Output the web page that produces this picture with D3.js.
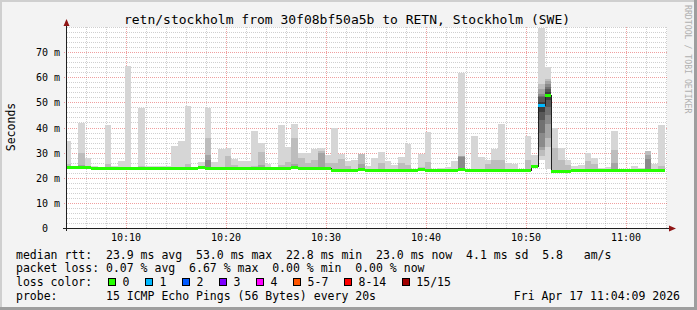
<!DOCTYPE html>
<html><head><meta charset="utf-8">
<script src="https://cdn.jsdelivr.net/npm/d3@7"></script>
<style>
html,body{margin:0;padding:0;background:#f3f3f3;}
svg{display:block;}
text{font-family:"DejaVu Sans Mono",monospace;}
</style></head><body>
<svg id="c" width="697" height="310"></svg>
<script>
// ---------------- data ----------------
const title = "retn/stockholm from 30f08bf50a5b to RETN, Stockholm (SWE)";
const yTitle = "Seconds";
const sideText = "RRDTOOL / TOBI OETIKER";
const yTickValues = [0, 10, 20, 30, 40, 50, 60, 70];
const yTickLabels = ["0", "10 m", "20 m", "30 m", "40 m", "50 m", "60 m", "70 m"];
const xTickLabels = ["10:10", "10:20", "10:30", "10:40", "10:50", "11:00"];
const day = "2026-04-17";
const rangeStart = "10:04:09", rangeEnd = "11:04:09";
const firstSlot = "10:03:55";   // start of the first 40 s step
const stepSeconds = 40;

// median rtt per step (ms)
const medianRtt = [
 24.1,24.1,24.3,24.3,23.9,23.8,23.8,23.8,23.8,23.8,
 23.8,23.8,23.8,23.8,24.0,23.9,23.8,23.8,24.0,23.8,
 24.1,24.0,23.8,23.8,23.8,23.8,23.8,23.8,23.8,24.0,
 23.9,23.8,23.8,23.8,24.1,23.8,23.8,23.8,23.8,23.7,
 22.9,22.9,22.9,23.0,23.4,22.9,22.9,22.9,22.9,23.0,
 23.0,23.0,23.0,23.3,23.0,22.9,22.9,22.9,23.0,23.6,
 23.1,23.1,23.1,23.1,23.1,23.2,23.2,23.2,22.9,22.9,
 24.5,48.8,53.0,22.8,22.8,22.8,22.9,22.9,23.0,23.0,
 23.0,23.1,23.2,22.9,22.9,22.9,22.9,23.1,23.1,23.0];
// lowest ping per step (ms)
const pingMin = [
 23.8,23.8,24.0,24.0,23.6,23.5,23.5,23.5,23.5,23.5,
 23.5,23.5,23.5,23.5,23.7,23.6,23.5,23.5,23.7,23.5,
 23.8,23.7,23.5,23.5,23.5,23.5,23.5,23.5,23.5,23.7,
 23.6,23.5,23.5,23.5,23.8,23.5,23.5,23.5,23.5,23.4,
 22.6,22.6,22.6,22.7,23.1,22.6,22.6,22.6,22.6,22.7,
 22.7,22.7,22.7,23.0,22.7,22.6,22.6,22.6,22.7,23.3,
 22.8,22.8,22.8,22.8,22.8,22.9,22.9,22.9,22.6,22.6,
 24.2,27.0,23.3,22.5,22.5,22.5,22.6,22.6,22.7,22.7,
 22.7,22.8,22.9,22.6,22.6,22.6,22.6,22.8,22.8,22.7];
// highest ping per step (ms)
const pingMax = [
 34.6,24.6,41.9,27.8,24.7,24.2,41.0,24.7,26.6,64.4,
 24.2,47.9,24.5,24.7,24.7,24.7,32.6,34.7,48.5,24.2,
 26.2,47.9,26.2,31.4,32.0,27.6,26.6,26.6,38.6,34.0,
 25.6,24.2,41.0,32.2,41.5,29.8,29.7,31.4,32.0,29.2,
 39.9,29.3,26.6,27.0,29.4,24.7,27.8,30.2,26.6,25.0,
 28.2,33.4,23.6,29.4,38.2,23.3,24.0,24.3,26.6,61.8,
 23.6,36.5,28.2,27.0,31.4,41.4,26.0,25.6,23.3,36.6,
 28.9,79.5,63.9,40.0,32.0,27.0,24.7,25.0,29.7,27.7,
 24.0,24.4,38.6,23.3,23.3,24.6,23.7,30.6,25.4,41.0];
// second / third / fourth highest ping [step, ms] where they stand out
const ping2nd = [[0,25.5],[2,29.7],[6,25.5],[11,24.6],[18,25.5],[21,36.0],[24,28.6],[25,25.2],
 [28,24.7],[29,30.2],[32,25.0],[33,26.4],[34,35.9],[35,27.7],[36,26.0],[37,27.0],[38,30.8],
 [39,26.0],[40,26.0],[41,27.6],[42,24.5],[44,29.4],[47,25.7],[50,25.7],[51,25.0],[53,24.2],
 [54,26.2],[59,28.6],[63,25.5],[64,27.0],[65,27.0],[69,27.0],[70,25.0],[73,32.0],[74,27.0],
 [75,25.0],[78,26.8],[79,25.5],[82,31.0],[87,30.6],[89,24.5]];
const ping3rd = [[2,25.2],[21,29.0],[29,25.2],[34,25.5],[38,30.0],[44,25.5],[59,28.6],[82,25.7],[87,29.0]];
const ping4th = [[21,27.0],[59,28.4],[87,27.5]];
// all 15 sorted pings for the steps of the spike
const spikePings = [
 [71, [27.0,28.5,31.0,32.3,38.0,43.0,46.0,48.8,50.0,52.2,52.6,53.5,55.5,57.5,79.5]],
 [72, [23.3,32.2,36.0,41.4,45.0,48.3,51.0,53.0,54.0,55.2,56.3,57.5,58.5,59.5,63.9]]];
// lost pings [step, count]
const lostPings = [[71, 1]];

const rttLine = "median rtt:  23.9 ms avg  53.0 ms max  22.8 ms min  23.0 ms now  4.1 ms sd  5.8   am/s";
const lossLine = "packet loss: 0.07 % avg  6.67 % max  0.00 % min  0.00 % now";
const lossColorTitle = "loss color:";
const lossLabels = ["0", "1", "2", "3", "4", "5-7", "8-14", "15/15"];
const lossColors = ["#26ff00", "#00b8ff", "#0059ff", "#7e00ff", "#ff00ff", "#ff5500", "#ff0000", "#a10000"];
const lossUpper = [0, 1, 2, 3, 4, 7, 14, 15];
const probeLine = "probe:       15 ICMP Echo Pings (56 Bytes) every 20s";
const stampText = "Fri Apr 17 11:04:09 2026";

// ---------------- drawing ----------------
const W = 697, H = 310;
const P = {l: 67, r: 667, t: 27, b: 228};
const parse = d3.timeParse("%Y-%m-%d %H:%M:%S");
const x = d3.scaleTime().domain([parse(day + " " + rangeStart), parse(day + " " + rangeEnd)]).range([P.l, P.r]);
const y = d3.scaleLinear().domain([0, 80]).range([P.b, P.t]);
const slot0 = parse(day + " " + firstSlot);
const slotTime = k => new Date(+slot0 + k * stepSeconds * 1000);

const svg = d3.select("#c");
svg.append("rect").attr("width", W).attr("height", H).attr("fill", "#f3f3f3");
svg.append("path").attr("d", "M0,0H697V2H2V310H0Z").attr("fill", "#cfcfcf");
svg.append("path").attr("d", "M697,0V310H0V307H694V0Z").attr("fill", "#9e9e9e");
svg.append("rect").attr("x", P.l).attr("y", P.t).attr("width", P.r - P.l).attr("height", P.b - P.t).attr("fill", "#ffffff");

svg.append("defs").append("clipPath").attr("id", "pc").append("rect")
  .attr("x", P.l).attr("y", P.t).attr("width", P.r - P.l).attr("height", P.b - P.t);

// grid
const grid = svg.append("g").attr("shape-rendering", "crispEdges").attr("stroke-dasharray", "1,1");
const minorCol = "rgba(140,140,140,0.42)", majorCol = "rgba(225,80,80,0.55)";
for (let v = 2; v <= 80; v += 2) {
  if (v % 10 === 0 && v <= 70) continue;
  const yy = Math.round(y(v)) + 0.5;
  grid.append("line").attr("x1", P.l).attr("x2", P.r).attr("y1", yy).attr("y2", yy).attr("stroke", minorCol);
}
x.ticks(d3.timeMinute.every(2)).forEach(t => {
  if (t.getMinutes() % 10 === 0) return;
  const xx = Math.round(x(t)) + 0.5;
  grid.append("line").attr("x1", xx).attr("x2", xx).attr("y1", P.t).attr("y2", P.b).attr("stroke", minorCol);
});
yTickValues.filter(v => v > 0).forEach(v => {
  const yy = Math.round(y(v)) + 0.5;
  grid.append("line").attr("x1", P.l - 3).attr("x2", P.r).attr("y1", yy).attr("y2", yy).attr("stroke", majorCol);
});
x.ticks(d3.timeMinute.every(10)).forEach(t => {
  const xx = Math.round(x(t)) + 0.5;
  grid.append("line").attr("x1", xx).attr("x2", xx).attr("y1", P.t).attr("y2", P.b).attr("stroke", majorCol);
});

// smoke
const smoke = svg.append("g").attr("clip-path", "url(#pc)").attr("shape-rendering", "crispEdges");
const gray = i => { const g = Math.floor(190 / 7.5 * (7.5 - (i + 1))) + 50; return `rgb(${g},${g},${g})`; };
const m2 = new Map(ping2nd), m3 = new Map(ping3rd), m4 = new Map(ping4th), sp = new Map(spikePings);
medianRtt.forEach((m, k) => {
  const x0 = Math.round(x(slotTime(k))), x1 = Math.round(x(slotTime(k + 1)));
  let bands = [];
  if (sp.has(k)) {
    const p = sp.get(k);
    for (let i = 0; i < 7; i++) bands.push([p[i], p[14 - i]]);
  } else {
    bands.push([pingMin[k], pingMax[k]]);
    [m2, m3, m4].forEach(mm => { if (mm.has(k)) bands.push([pingMin[k], mm.get(k)]); });
  }
  bands.forEach((b, i) => {
    const yt = Math.round(y(b[1])), yb = Math.round(y(b[0]));
    smoke.append("rect").attr("x", x0).attr("width", x1 - x0).attr("y", yt).attr("height", Math.max(1, yb - yt)).attr("fill", gray(i));
  });
});

// median line (black steps)
let d = "";
medianRtt.forEach((m, k) => {
  const x0 = Math.round(x(slotTime(k))), x1 = Math.round(x(slotTime(k + 1)));
  const yy = Math.round(y(m)) + 0.5;
  d += (k === 0 ? `M${x0},${yy}` : `V${yy}`) + `H${x1}`;
});
svg.append("path").attr("clip-path", "url(#pc)").attr("d", d).attr("fill", "none").attr("stroke", "#202020").attr("stroke-width", 1).attr("shape-rendering", "crispEdges");

// loss coloured median
const lost = new Map(lostPings);
const lossIdx = n => lossUpper.findIndex(u => n <= u);
const med = svg.append("g").attr("clip-path", "url(#pc)").attr("shape-rendering", "crispEdges");
medianRtt.forEach((m, k) => {
  const x0 = Math.round(x(slotTime(k))), x1 = Math.round(x(slotTime(k + 1)));
  const yy = Math.round(y(m));
  med.append("rect").attr("x", x0).attr("width", x1 - x0).attr("y", yy - 1).attr("height", 3)
    .attr("fill", lossColors[lossIdx(lost.get(k) || 0)]);
});

// axes lines + arrows
const axc = "#202020", arrowC = "#8f1515";
svg.append("line").attr("x1", 63).attr("x2", 670).attr("y1", P.b + 0.5).attr("y2", P.b + 0.5).attr("stroke", axc).attr("shape-rendering", "crispEdges");
svg.append("line").attr("x1", P.l - 0.5).attr("x2", P.l - 0.5).attr("y1", P.b + 3).attr("y2", 24).attr("stroke", axc).attr("shape-rendering", "crispEdges");
svg.append("path").attr("d", `M669,${P.b - 2.5}L676,${P.b + 0.5}L669,${P.b + 3.5}Z`).attr("fill", arrowC);
svg.append("path").attr("d", `M${P.l - 3.5},26L${P.l - 0.5},19L${P.l + 2.5},26Z`).attr("fill", arrowC);

// tick labels via d3 axes
const yAx = svg.append("g").attr("transform", "translate(60,0)")
  .call(d3.axisLeft(y).tickValues(yTickValues).tickSize(0).tickPadding(0).tickFormat((v, i) => yTickLabels[i]));
yAx.select(".domain").remove();
yAx.selectAll("text").attr("font-family", "DejaVu Sans Mono").attr("font-size", "10px").attr("fill", "#000")
  .attr("dy", "0.36em").attr("x", (v) => v === 0 ? -12 : 0);

const xTimes = xTickLabels.map(s => parse(day + " " + s + ":00"));
const xAx = svg.append("g").attr("transform", "translate(0,241)")
  .call(d3.axisBottom(x).tickValues(xTimes).tickSize(0).tickPadding(0).tickFormat((t, i) => xTickLabels[i]));
xAx.select(".domain").remove();
xAx.selectAll("text").attr("font-family", "DejaVu Sans Mono").attr("font-size", "10px").attr("fill", "#000").attr("dy", "0").attr("y", 0);

// titles
svg.append("text").attr("x", 347).attr("y", 24).attr("text-anchor", "middle").attr("font-size", "13px").attr("fill", "#000").text(title);
svg.append("text").attr("transform", "translate(15,127) rotate(-90)").attr("text-anchor", "middle").attr("font-size", "11.5px").attr("fill", "#000").text(yTitle);
svg.append("text").attr("transform", "translate(685,5) rotate(90)").attr("font-size", "8.2px").attr("fill", "#b0b0b0").text(sideText);

// legend
const leg = svg.append("g").attr("font-size", "11.5px").attr("fill", "#000");
const rowY = [258.5, 272.3, 286.1, 299.9];
const lt = (s, xx, yy, anchor) => leg.append("text").attr("x", xx).attr("y", yy).attr("xml:space", "preserve")
  .style("white-space", "pre").attr("text-anchor", anchor || "start").text(s);
lt(rttLine, 16, rowY[0]);
lt(lossLine, 16, rowY[1]);
lt(lossColorTitle, 16, rowY[2]);
lt(probeLine, 16, rowY[3]);
lt(stampText, 680, rowY[3], "end");
const cw = 6.924;
let bx = 108;
lossLabels.forEach((lab, i) => {
  leg.append("rect").attr("x", bx + 0.5).attr("y", 278.5).attr("width", 7).attr("height", 7)
    .attr("fill", lossColors[i]).attr("stroke", "#000").attr("stroke-width", 1).attr("shape-rendering", "crispEdges");
  lt(lab, bx + 14.5, rowY[2]);
  bx += 30.1 + lab.length * cw;
});
</script>
</body></html>
